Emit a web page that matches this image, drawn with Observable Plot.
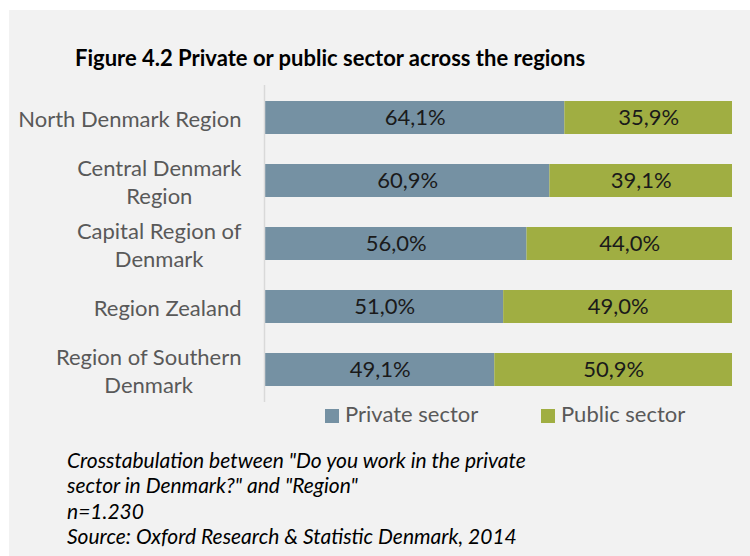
<!DOCTYPE html>
<html>
<head>
<meta charset="utf-8">
<script src="https://cdn.jsdelivr.net/npm/d3@7"></script>
<script src="https://cdn.jsdelivr.net/npm/@observablehq/plot@0.6"></script>
<style>
  html, body { margin: 0; padding: 0; background: #ffffff; }
  body { width: 750px; height: 556px; position: relative; overflow: hidden; font-family: Lato, "Open Sans", sans-serif; }
  #panel { position: absolute; left: 9px; top: 10px; width: 741px; height: 546px; background: #f2f2f2; }
  #title { position: absolute; left: 75px; top: 44px; font-weight: bold; font-size: 22px; line-height: 28px; color: #000; white-space: nowrap; }
  #chart { position: absolute; left: 0; top: 80px; }
  #legend { position: absolute; top: 401px; left: 0; width: 750px; height: 26px; font-size: 22px; color: #595959; }
  .lg { position: absolute; top: 0; white-space: nowrap; line-height: 26px; }
  .sw { display: inline-block; width: 14px; height: 14px; vertical-align: -1px; margin-right: 6px; }
  #caption { position: absolute; left: 67px; top: 447px; font-style: italic; font-size: 21px; line-height: 25.3px; color: #000; white-space: nowrap; }
</style>
</head>
<body>
<div id="panel"></div>
<div id="title"></div>
<div id="chart"></div>
<div id="legend"></div>
<div id="caption"></div>
<script>
// ---- data ----
const titleText = "Figure 4.2 Private or public sector across the regions";
const regions = ["North Denmark Region", "Central Denmark Region", "Capital Region of Denmark", "Region Zealand", "Region of Southern Denmark"];
const regionLabels = ["North Denmark Region", "Central Denmark\nRegion", "Capital Region of\nDenmark", "Region Zealand", "Region of Southern\nDenmark"];
const sectors = ["Private sector", "Public sector"];
const privateValues = [64.1, 60.9, 56.0, 51.0, 49.1];
const publicValues = [35.9, 39.1, 44.0, 49.0, 50.9];
const sectorColors = ["#7591a3", "#a0ae42"];
const captionLines = [
  "Crosstabulation between \"Do you work in the private",
  "sector in Denmark?\" and \"Region\"",
  "n=1.230",
  "Source: Oxford Research & Statistic Denmark, 2014"
];

// ---- build table ----
const rows = [];
regions.forEach((r, i) => {
  rows.push({region: r, sector: sectors[0], value: privateValues[i]});
  rows.push({region: r, sector: sectors[1], value: publicValues[i]});
});
const fmt = v => v.toFixed(1).replace(".", ",") + "%";

document.getElementById("title").textContent = titleText;

const plot = Plot.plot({
  width: 750,
  height: 330,
  marginTop: 5,
  marginBottom: 8,
  marginLeft: 265,
  marginRight: 18,
  style: {fontFamily: "Lato, 'Open Sans', sans-serif", background: "transparent"},
  x: {domain: [0, 100], axis: null},
  y: {domain: regions, paddingInner: 0.48, paddingOuter: 0.24, label: null},
  color: {domain: sectors, range: sectorColors},
  marks: [
    Plot.barX(rows, Plot.stackX({x: "value", y: "region", fill: "sector", z: "sector"})),
    Plot.text(rows, Plot.stackX({x: "value", y: "region", z: "sector", text: d => fmt(d.value), fill: "#1a1a1a", fontSize: 22})),
    Plot.ruleX([0], {stroke: "#d9d9d9", strokeWidth: 1.5, dx: -1}),
    Plot.axisY({
      tickSize: 0,
      tickPadding: 24,
      fontSize: 22,
      fill: "#595959",
      lineHeight: 1.27,
      tickFormat: d => regionLabels[regions.indexOf(d)]
    })
  ]
});
document.getElementById("chart").appendChild(plot);

// center wrapped lines within each right-aligned label block (Excel style)
plot.querySelectorAll("g[aria-label='y-axis tick label'] text").forEach(t => {
  const spans = t.querySelectorAll("tspan");
  if (spans.length > 1) {
    let w = 0;
    spans.forEach(s => { w = Math.max(w, s.getComputedTextLength()); });
    t.setAttribute("text-anchor", "middle");
    spans.forEach(s => s.setAttribute("x", String(-w / 2 + (+(s.getAttribute("x") || 0)))));
  }
});

// legend
const lg = document.getElementById("legend");
const legendX = [325, 541];
sectors.forEach((s, i) => {
  const d = document.createElement("div");
  d.className = "lg";
  d.style.left = legendX[i] + "px";
  d.innerHTML = `<span class="sw" style="background:${sectorColors[i]}"></span>${s}`;
  lg.appendChild(d);
});

// caption
document.getElementById("caption").innerHTML = captionLines.map(l => l.replace(/&/g, "&amp;")).join("<br>");
</script>
</body>
</html>
